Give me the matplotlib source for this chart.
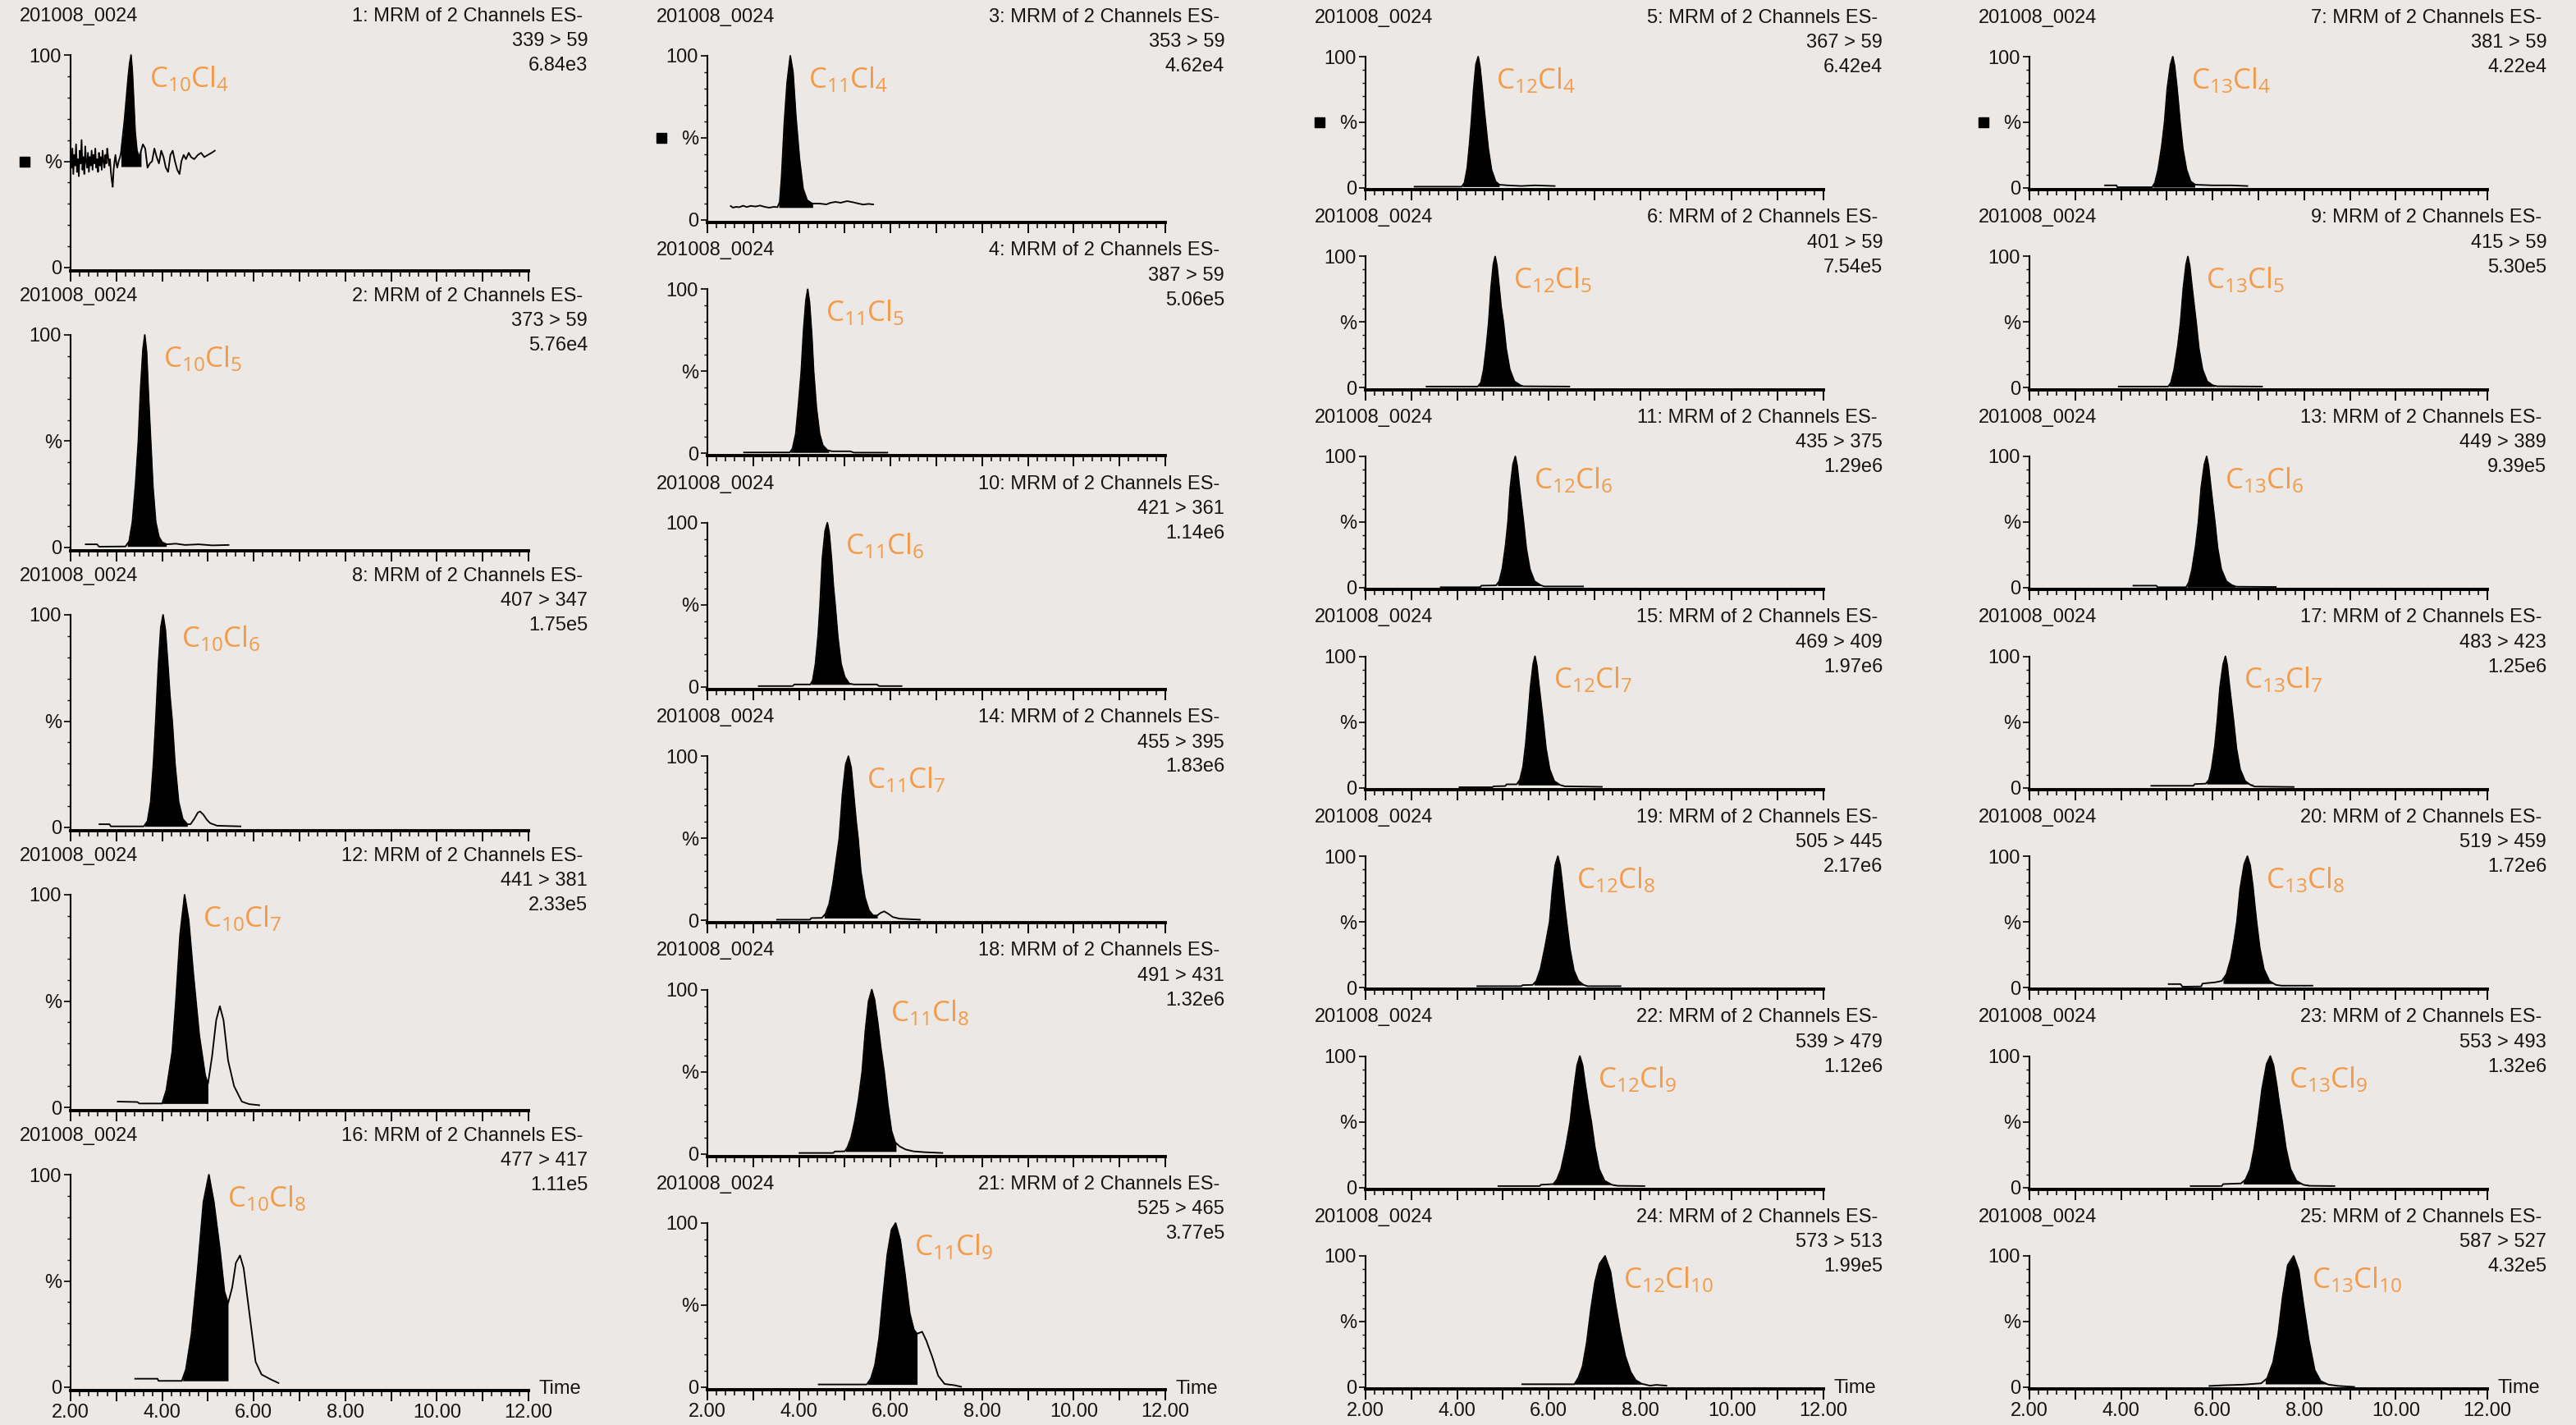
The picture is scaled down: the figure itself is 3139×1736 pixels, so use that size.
import numpy as np
import matplotlib
matplotlib.use('Agg')
import matplotlib.pyplot as plt
import matplotlib.transforms as mtransforms
from matplotlib.ticker import MultipleLocator, FuncFormatter

# --- figure / style ---
W, H = 3139, 1736
BG = '#ECE8E5'
ORANGE = '#F39B48'
SAMPLE = '201008_0024'

plt.rcParams['font.family'] = ['Liberation Sans', 'DejaVu Sans']
plt.rcParams['mathtext.fontset'] = 'custom'
plt.rcParams['mathtext.rm'] = 'Open Sans'
plt.rcParams['mathtext.it'] = 'Open Sans:italic'
plt.rcParams['mathtext.bf'] = 'Open Sans:bold'

# --- header info, one list per column ---
CARBON = [10, 11, 12, 13]
CHLORINE = [[4, 5, 6, 7, 8],
            [4, 5, 6, 7, 8, 9],
            [4, 5, 6, 7, 8, 9, 10],
            [4, 5, 6, 7, 8, 9, 10]]
CHANNEL_C10 = [1, 2, 8, 12, 16]
CHANNEL_C11 = [3, 4, 10, 14, 18, 21]
CHANNEL_C12 = [5, 6, 11, 15, 19, 22, 24]
CHANNEL_C13 = [7, 9, 13, 17, 20, 23, 25]
TRANS_C10 = ['339 > 59', '373 > 59', '407 > 347', '441 > 381', '477 > 417']
TRANS_C11 = ['353 > 59', '387 > 59', '421 > 361', '455 > 395', '491 > 431', '525 > 465']
TRANS_C12 = ['367 > 59', '401 > 59', '435 > 375', '469 > 409', '505 > 445', '539 > 479', '573 > 513']
TRANS_C13 = ['381 > 59', '415 > 59', '449 > 389', '483 > 423', '519 > 459', '553 > 493', '587 > 527']
INT_C10 = ['6.84e3', '5.76e4', '1.75e5', '2.33e5', '1.11e5']
INT_C11 = ['4.62e4', '5.06e5', '1.14e6', '1.83e6', '1.32e6', '3.77e5']
INT_C12 = ['6.42e4', '7.54e5', '1.29e6', '1.97e6', '2.17e6', '1.12e6', '1.99e5']
INT_C13 = ['4.22e4', '5.30e5', '9.39e5', '1.25e6', '1.72e6', '1.32e6', '4.32e5']

# integration windows (start, end) and fill base (%)
FILL_START_C10 = [3.10, 3.24, 3.62, 4.00, 4.45]
FILL_END_C10 = [3.54, 4.09, 4.55, 5.00, 5.44]
FILL_BASE_C10 = [47.5, 0.5, 0.5, 1.8, 3.0]
FILL_START_C11 = [3.56, 3.82, 4.27, 4.55, 5.02, 5.50]
FILL_END_C11 = [4.30, 4.65, 5.12, 5.71, 6.12, 6.58]
FILL_BASE_C11 = [7.6, 0.6, 1.5, 1.4, 1.4, 1.7]
FILL_START_C12 = [4.12, 4.47, 4.88, 5.33, 5.68, 6.09, 6.56]
FILL_END_C12 = [4.92, 5.42, 5.86, 6.31, 6.79, 7.50, 8.03]
FILL_BASE_C12 = [1.0, 1.0, 1.6, 2.0, 1.8, 2.0, 2.3]
FILL_START_C13 = [4.70, 5.05, 5.44, 5.87, 6.23, 6.67, 7.15]
FILL_END_C13 = [5.61, 6.05, 6.49, 6.88, 7.38, 8.09, 8.53]
FILL_BASE_C13 = [0.6, 1.0, 0.4, 2.7, 3.0, 2.5, 2.5]

# --- chromatogram traces (time in min, intensity in %) ---
T_C10CL4 = [2.00, 2.02, 2.04, 2.06, 2.08, 2.10, 2.12, 2.14, 2.16, 2.18, 2.20, 2.22, 2.24, 2.26,
            2.28, 2.30, 2.32, 2.34, 2.36, 2.38, 2.40, 2.42, 2.44, 2.46, 2.48, 2.50, 2.52, 2.54,
            2.56, 2.58, 2.60, 2.62, 2.64, 2.66, 2.68, 2.70, 2.72, 2.74, 2.76, 2.78, 2.80, 2.82,
            2.84, 2.86, 2.88, 2.90, 2.92, 2.94, 2.96, 2.98, 3.00, 3.02, 3.05, 3.08, 3.10, 3.14,
            3.18, 3.22, 3.26, 3.29, 3.32, 3.35, 3.38, 3.41, 3.45, 3.50, 3.54, 3.58, 3.63, 3.68,
            3.73, 3.78, 3.83, 3.88, 3.93, 3.98, 4.03, 4.08, 4.13, 4.18, 4.23, 4.28, 4.33, 4.38,
            4.42, 4.47, 4.52, 4.58, 4.63, 4.70, 4.78, 4.85, 4.92, 5.00, 5.08, 5.15]
Y_C10CL4 = [52, 47, 56, 44, 53, 48, 58, 45, 51, 43, 55, 49, 60, 46,
            52, 44, 57, 50, 47, 54, 45, 52, 48, 55, 46, 53, 49, 56,
            47, 51, 45, 54, 48, 52, 46, 55, 50, 47, 53, 49, 56, 52,
            48, 51, 45, 41, 38, 46, 50, 53, 49, 47, 50, 52, 54, 62,
            70, 80, 90, 96, 100, 92, 78, 64, 55, 52, 55, 58, 56, 47,
            49, 50, 56, 52, 49, 55, 52, 47, 45, 53, 55, 50, 46, 44,
            50, 53, 51, 54, 52, 51, 53, 54, 52, 53, 54, 55]
T_C10CL5 = [2.33, 2.58, 2.62, 3.20, 3.28, 3.35, 3.42, 3.48, 3.53, 3.58, 3.62, 3.66, 3.70, 3.75,
            3.80, 3.86, 3.93, 4.00, 4.10, 4.30, 4.50, 4.80, 5.10, 5.45]
Y_C10CL5 = [1.5, 1.5, 0.4, 0.5, 3, 12, 30, 50, 75, 93, 100, 92, 72, 50,
            28, 12, 5, 2.5, 1.5, 1.8, 1.2, 1.5, 1.0, 1.2]
T_C10CL6 = [2.63, 2.85, 2.88, 3.60, 3.68, 3.75, 3.81, 3.86, 3.92, 3.97, 4.02, 4.07, 4.12, 4.17,
            4.22, 4.28, 4.36, 4.45, 4.55, 4.62, 4.70, 4.78, 4.83, 4.90, 4.98, 5.05, 5.20, 5.71]
Y_C10CL6 = [1.5, 1.5, 0.5, 0.5, 3, 12, 30, 50, 77, 94, 100, 93, 78, 62,
            50, 30, 12, 4, 1.5, 1.5, 4, 7, 7.5, 6, 3.5, 2, 0.8, 0.5]
T_C10CL7 = [3.03, 3.46, 3.50, 4.00, 4.09, 4.22, 4.30, 4.39, 4.49, 4.58, 4.68, 4.81, 4.94, 5.00,
            5.09, 5.18, 5.26, 5.34, 5.44, 5.57, 5.74, 5.90, 6.12]
Y_C10CL7 = [2.7, 2.5, 1.8, 1.8, 8, 26, 50, 81, 100, 88, 63, 34, 15, 11,
            24, 41, 47.6, 41, 22, 10, 2.7, 1.5, 1.0]
T_C10CL8 = [3.41, 3.90, 3.92, 4.09, 4.43, 4.52, 4.64, 4.77, 4.90, 5.02, 5.13, 5.26, 5.36, 5.44,
            5.53, 5.61, 5.70, 5.78, 5.91, 6.04, 6.17, 6.38, 6.54]
Y_C10CL8 = [4, 4, 3, 3, 3, 8.5, 25, 54, 87, 100, 87, 65, 45, 39.5,
            47, 58.5, 62, 56, 34, 12, 6, 3.6, 2]

T_C11CL4 = [2.51, 2.56, 2.62, 2.70, 2.78, 2.86, 2.95, 3.05, 3.15, 3.25, 3.35, 3.45, 3.53, 3.58,
            3.62, 3.68, 3.74, 3.81, 3.87, 3.93, 4.01, 4.09, 4.18, 4.29, 4.45, 4.60, 4.69, 4.80,
            4.91, 5.05, 5.18, 5.30, 5.40, 5.52, 5.62]
Y_C11CL4 = [8.5, 7.5, 8, 7.8, 8.7, 7.9, 8.6, 8.2, 8.8, 8.0, 7.5, 8.0, 7.8, 11,
            26, 59, 83.5, 100, 90, 64, 37.5, 19, 12, 10, 10, 9.5, 10.5, 11,
            10.5, 11.5, 10.8, 10, 9.4, 9.8, 9.5]
T_C11CL5 = [2.80, 3.80, 3.86, 3.93, 3.99, 4.05, 4.10, 4.15, 4.19, 4.23, 4.28, 4.32, 4.38, 4.45,
            4.52, 4.62, 4.72, 5.12, 5.20, 5.93]
Y_C11CL5 = [0.6, 0.6, 3, 12, 30, 50, 75, 93, 100, 92, 72, 50, 28, 12,
            5, 2, 1.3, 1.3, 0.5, 0.5]
T_C11CL6 = [3.12, 3.86, 3.90, 4.25, 4.30, 4.36, 4.42, 4.46, 4.51, 4.57, 4.62, 4.66, 4.71, 4.75,
            4.79, 4.85, 4.92, 5.00, 5.10, 5.20, 5.70, 5.75, 6.24]
Y_C11CL6 = [0.5, 0.5, 1.5, 1.5, 4, 14, 32, 50, 78, 95, 100, 94, 78, 62,
            50, 30, 14, 6, 2, 1.5, 1.5, 0.5, 0.5]
T_C11CL7 = [3.52, 4.24, 4.27, 4.50, 4.58, 4.66, 4.74, 4.81, 4.88, 4.95, 5.02, 5.08, 5.14, 5.20,
            5.25, 5.29, 5.35, 5.44, 5.53, 5.62, 5.71, 5.78, 5.86, 5.95, 6.05, 6.20, 6.64]
Y_C11CL7 = [0.4, 0.4, 1.4, 1.5, 4, 10, 22, 36, 50, 77, 95, 100, 93, 75,
            60, 50, 30, 14, 6, 3, 3, 4.5, 5.5, 4, 2, 1, 0.4]
T_C11CL8 = [4.01, 4.75, 4.78, 5.00, 5.06, 5.14, 5.22, 5.30, 5.38, 5.45, 5.52, 5.59, 5.65, 5.72,
            5.79, 5.86, 5.94, 6.02, 6.10, 6.20, 6.33, 6.50, 6.73, 7.13]
Y_C11CL8 = [0.5, 0.5, 1.4, 1.5, 4, 10, 20, 33, 50, 75, 93, 100, 94, 80,
            64, 50, 30, 14, 7, 4.5, 2.6, 1.5, 1, 0.5]
T_C11CL9 = [4.43, 5.48, 5.57, 5.66, 5.75, 5.84, 5.93, 6.02, 6.11, 6.21, 6.31, 6.42, 6.51, 6.58,
            6.69, 6.78, 6.91, 7.04, 7.18, 7.40, 7.54]
Y_C11CL9 = [1.7, 1.7, 5.3, 13.6, 30, 56.6, 81, 96, 100, 90, 70, 45, 35, 32.6,
            33.8, 28.5, 18.5, 7, 2, 1.2, 0.3]

T_C12CL4 = [3.07, 4.10, 4.16, 4.22, 4.27, 4.31, 4.36, 4.41, 4.46, 4.50, 4.55, 4.59, 4.62, 4.68,
            4.75, 4.84, 4.92, 5.10, 5.40, 5.70, 6.13]
Y_C12CL4 = [1, 1, 4, 15, 33, 50, 75, 94, 100, 92, 75, 60, 50, 30,
            14, 5, 2.5, 2, 1.5, 2, 1.5]
T_C12CL5 = [3.33, 4.45, 4.52, 4.58, 4.64, 4.69, 4.74, 4.79, 4.83, 4.87, 4.92, 4.96, 5.01, 5.07,
            5.15, 5.25, 5.38, 5.45, 6.45]
Y_C12CL5 = [1, 1, 4, 14, 32, 50, 76, 94, 100, 93, 76, 62, 50, 30,
            14, 5, 2, 1.2, 1]
T_C12CL6 = [3.64, 4.50, 4.53, 4.85, 4.92, 4.99, 5.06, 5.11, 5.16, 5.22, 5.27, 5.31, 5.36, 5.41,
            5.45, 5.51, 5.59, 5.69, 5.82, 5.90, 6.75]
Y_C12CL6 = [0.4, 0.4, 1.6, 1.8, 5, 15, 33, 50, 76, 94, 100, 93, 77, 62,
            50, 30, 14, 5, 2, 1, 1]
T_C12CL7 = [4.05, 4.77, 4.80, 5.05, 5.08, 5.30, 5.37, 5.44, 5.50, 5.54, 5.60, 5.66, 5.70, 5.74,
            5.79, 5.84, 5.88, 5.94, 6.02, 6.12, 6.25, 6.35, 7.16]
Y_C12CL7 = [0.3, 0.3, 1, 1.2, 2.5, 2.5, 6, 16, 34, 50, 76, 94, 100, 93,
            77, 62, 50, 30, 14, 5, 2, 1, 0.6]
T_C12CL8 = [4.44, 5.40, 5.43, 5.65, 5.73, 5.82, 5.92, 6.02, 6.08, 6.14, 6.20, 6.25, 6.30, 6.35,
            6.39, 6.46, 6.55, 6.65, 6.76, 6.85, 7.57]
Y_C12CL8 = [1, 1, 1.8, 2, 5, 14, 31, 50, 74, 93, 100, 93, 78, 62,
            50, 30, 13, 5, 2, 1, 1]
T_C12CL9 = [4.90, 5.80, 5.83, 6.10, 6.18, 6.27, 6.37, 6.47, 6.55, 6.62, 6.68, 6.74, 6.80, 6.87,
            6.93, 7.01, 7.10, 7.22, 7.38, 7.50, 8.09]
Y_C12CL9 = [1, 1, 2, 2.5, 6, 14, 30, 50, 75, 93, 100, 93, 78, 62,
            50, 30, 14, 5, 2, 1.2, 1]
T_C12CL10 = [5.42, 6.56, 6.65, 6.74, 6.83, 6.92, 7.01, 7.11, 7.23, 7.35, 7.45, 7.56, 7.67, 7.79,
             7.90, 8.03, 8.21, 8.35, 8.57]
Y_C12CL10 = [2.3, 2.3, 7.4, 16, 34, 59, 80, 94, 100, 88, 65, 42.6, 24, 11.6,
             5.4, 2.7, 1.2, 1.8, 1.2]

T_C13CL4 = [3.65, 3.90, 3.92, 4.68, 4.74, 4.81, 4.89, 4.95, 5.01, 5.08, 5.13, 5.17, 5.22, 5.26,
            5.29, 5.35, 5.43, 5.52, 5.62, 6.00, 6.40, 6.76]
Y_C13CL4 = [2, 2, 0.6, 0.6, 4, 14, 32, 50, 76, 94, 100, 93, 77, 62,
            50, 30, 14, 5, 2.5, 2, 2, 1.5]
T_C13CL5 = [3.95, 5.03, 5.09, 5.16, 5.24, 5.30, 5.36, 5.42, 5.46, 5.50, 5.55, 5.60, 5.64, 5.70,
            5.78, 5.88, 6.00, 6.10, 7.08]
Y_C13CL5 = [1, 1, 4, 14, 32, 50, 76, 94, 100, 93, 77, 62, 50, 30,
            14, 5, 2, 1.2, 1]
T_C13CL6 = [4.27, 4.77, 4.80, 5.42, 5.48, 5.55, 5.63, 5.69, 5.75, 5.82, 5.87, 5.91, 5.96, 6.01,
            6.05, 6.11, 6.19, 6.30, 6.42, 6.52, 7.38]
Y_C13CL6 = [1.6, 1.6, 0.4, 0.4, 4, 14, 32, 50, 76, 94, 100, 93, 77, 62,
            50, 30, 14, 5, 2, 0.8, 0.6]
T_C13CL7 = [4.66, 5.58, 5.61, 5.85, 5.92, 5.98, 6.05, 6.10, 6.16, 6.23, 6.28, 6.32, 6.37, 6.42,
            6.46, 6.52, 6.60, 6.71, 6.83, 6.92, 7.77]
Y_C13CL7 = [1.4, 1.4, 2.7, 3, 6, 15, 32, 50, 76, 94, 100, 93, 77, 62,
            50, 30, 14, 5, 2, 0.8, 0.5]
T_C13CL8 = [5.04, 5.30, 5.34, 5.75, 5.78, 6.05, 6.20, 6.30, 6.40, 6.47, 6.53, 6.60, 6.69, 6.76,
            6.82, 6.88, 6.92, 6.96, 7.03, 7.12, 7.24, 7.38, 7.50, 8.18]
Y_C13CL8 = [2.6, 2.6, 0.6, 0.8, 3, 3.9, 5, 10, 22, 36, 50, 75, 94, 100,
            93, 77, 63, 50, 30, 14, 5, 2, 1.4, 1.4]
T_C13CL9 = [5.52, 6.20, 6.23, 6.62, 6.72, 6.82, 6.91, 6.99, 7.08, 7.18, 7.26, 7.33, 7.40, 7.46,
            7.52, 7.60, 7.70, 7.83, 7.98, 8.10, 8.66]
Y_C13CL9 = [1, 1, 2.5, 3, 6, 14, 30, 50, 75, 94, 100, 93, 78, 63,
            50, 30, 14, 5, 2, 1.2, 1]
T_C13CL10 = [5.93, 6.23, 6.67, 7.06, 7.19, 7.32, 7.43, 7.53, 7.64, 7.77, 7.88, 7.98, 8.10, 8.23,
             8.36, 8.53, 8.75, 9.09]
Y_C13CL10 = [1, 1.5, 2, 3, 6.8, 19, 40, 69, 93, 100, 89, 64, 36, 13,
             4.7, 2, 1, 0.3]

TRACES = [
    [(T_C10CL4, Y_C10CL4), (T_C10CL5, Y_C10CL5), (T_C10CL6, Y_C10CL6),
     (T_C10CL7, Y_C10CL7), (T_C10CL8, Y_C10CL8)],
    [(T_C11CL4, Y_C11CL4), (T_C11CL5, Y_C11CL5), (T_C11CL6, Y_C11CL6),
     (T_C11CL7, Y_C11CL7), (T_C11CL8, Y_C11CL8), (T_C11CL9, Y_C11CL9)],
    [(T_C12CL4, Y_C12CL4), (T_C12CL5, Y_C12CL5), (T_C12CL6, Y_C12CL6), (T_C12CL7, Y_C12CL7),
     (T_C12CL8, Y_C12CL8), (T_C12CL9, Y_C12CL9), (T_C12CL10, Y_C12CL10)],
    [(T_C13CL4, Y_C13CL4), (T_C13CL5, Y_C13CL5), (T_C13CL6, Y_C13CL6), (T_C13CL7, Y_C13CL7),
     (T_C13CL8, Y_C13CL8), (T_C13CL9, Y_C13CL9), (T_C13CL10, Y_C13CL10)],
]
CHANNELS = [CHANNEL_C10, CHANNEL_C11, CHANNEL_C12, CHANNEL_C13]
TRANSITIONS = [TRANS_C10, TRANS_C11, TRANS_C12, TRANS_C13]
INTENSITIES = [INT_C10, INT_C11, INT_C12, INT_C13]
FILLS = [(FILL_START_C10, FILL_END_C10, FILL_BASE_C10),
         (FILL_START_C11, FILL_END_C11, FILL_BASE_C11),
         (FILL_START_C12, FILL_END_C12, FILL_BASE_C12),
         (FILL_START_C13, FILL_END_C13, FILL_BASE_C13)]

# --- layout in pixels: left edge, panel height (0..100), period, top of last panel ---
COL_LEFT = [86, 862, 1664, 2473]
COL_H = [259, 200, 160, 160]
COL_PERIOD = [341, 284.4, 243.5, 243.5]
COL_LAST_TOP = [1431, 1490, 1530, 1530]
AX_W = 558
YMIN = -1.5

FS = 17
TXT = '#151515'


def xfmt(v, pos):
    return f'{v:.2f}' if int(round(v)) % 2 == 0 else ''


fig = plt.figure(figsize=(W / 100, H / 100), dpi=100, facecolor=BG)

for c in range(4):
    n = len(TRACES[c])
    for i in range(n):
        h = COL_H[c]
        top = COL_LAST_TOP[c] - (n - 1 - i) * COL_PERIOD[c]
        hax = h * (100 - YMIN) / 100
        ax = fig.add_axes([COL_LEFT[c] / W, 1 - (top + hax) / H, AX_W / W, hax / H])
        ax.set_facecolor('none')
        ax.set_xlim(2, 12)
        ax.set_ylim(YMIN, 100)
        for s in ['top', 'right']:
            ax.spines[s].set_visible(False)
        ax.spines['left'].set_linewidth(1.5)
        ax.spines['bottom'].set_linewidth(2.8)

        ax.xaxis.set_major_locator(MultipleLocator(1))
        ax.xaxis.set_minor_locator(MultipleLocator(0.2))
        ax.tick_params(axis='x', which='major', length=9.5, width=1.4, pad=2,
                       labelsize=FS, colors='k', labelcolor=TXT)
        ax.tick_params(axis='x', which='minor', length=5, width=1.1)
        last = (i == n - 1)
        if last:
            ax.xaxis.set_major_formatter(FuncFormatter(xfmt))
        else:
            ax.tick_params(axis='x', labelbottom=False)

        ax.set_yticks([0, 50, 100])
        ax.set_yticklabels(['0', '%', '100'])
        ax.yaxis.set_minor_locator(MultipleLocator(10))
        ax.tick_params(axis='y', which='major', length=6, width=1.2, pad=2,
                       labelsize=FS, labelcolor=TXT)
        ax.tick_params(axis='y', which='minor', length=3, width=1.0)

        t = np.array(TRACES[c][i][0])
        y = np.array(TRACES[c][i][1])
        s0, e0, b0 = FILLS[c][0][i], FILLS[c][1][i], FILLS[c][2][i]
        tt = np.concatenate([[s0], t[(t > s0) & (t < e0)], [e0]])
        yy = np.interp(tt, t, y)
        ax.fill_between(tt, b0, yy, color='k', lw=0, clip_on=False)
        ax.plot(t, y, color='k', lw=1.35, clip_on=False)

        # headers
        ax.annotate(SAMPLE, xy=(0, 1), xycoords='axes fraction', xytext=(-45, 34),
                    textcoords='offset points', ha='left', va='center', fontsize=FS, color=TXT)
        ax.annotate(f'{CHANNELS[c][i]}: MRM of 2 Channels ES-', xy=(1, 1),
                    xycoords='axes fraction', xytext=(47.5, 34), textcoords='offset points',
                    ha='right', va='center', fontsize=FS, color=TXT)
        ax.annotate(TRANSITIONS[c][i], xy=(1, 1), xycoords='axes fraction', xytext=(52, 12),
                    textcoords='offset points', ha='right', va='center', fontsize=FS, color=TXT)
        ax.annotate(INTENSITIES[c][i], xy=(1, 1), xycoords='axes fraction', xytext=(52, -9.5),
                    textcoords='offset points', ha='right', va='center', fontsize=FS, color=TXT)

        # compound label next to the apex
        t_apex = t[np.argmax(y)]
        label = r'$\mathrm{C_{%d}Cl_{%d}}$' % (CARBON[c], CHLORINE[c][i])
        ax.annotate(label, xy=(t_apex, 1), xycoords=('data', 'axes fraction'),
                    xytext=(16, -28), textcoords='offset points', ha='left', va='baseline',
                    fontsize=25, color=ORANGE)

        if i == 0:
            tr = mtransforms.offset_copy(ax.get_yaxis_transform(), fig=fig, x=-40, units='points')
            ax.plot([0], [50], marker='s', ms=9, color='k', transform=tr, clip_on=False)

        if last:
            ax.annotate('Time', xy=(1, 0), xycoords='axes fraction', xytext=(9, 1),
                        textcoords='offset points', ha='left', va='center',
                        fontsize=FS, color=TXT)

fig.savefig('out.png', dpi=100, facecolor=BG)
